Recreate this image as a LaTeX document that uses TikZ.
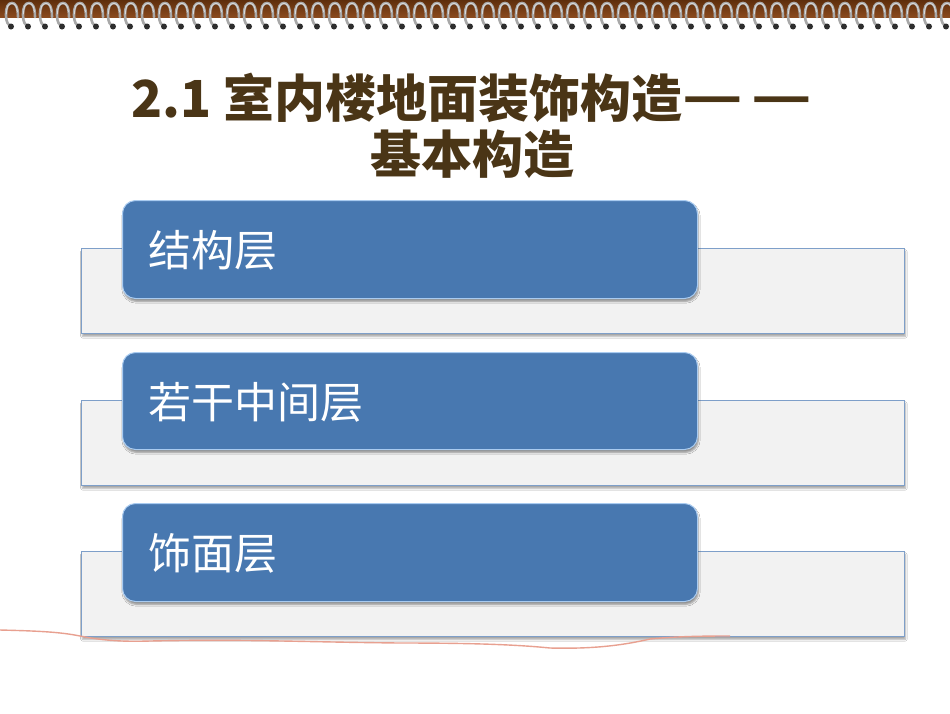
\documentclass[tikz,border=0pt]{standalone}
\usepackage{fontspec}
\usepackage{graphicx}
\newfontfamily\cjk{Noto Sans CJK SC}
\usetikzlibrary{shadows.blur}
\definecolor{band}{HTML}{5E2E0C}
\definecolor{bandlight}{HTML}{8A4A1E}
\definecolor{ring}{HTML}{A8A8A8}
\definecolor{ringhi}{HTML}{D8D8D8}
\definecolor{ringdark}{HTML}{2E2E2E}
\definecolor{titlebrown}{HTML}{4A3516}
\definecolor{layerblue}{HTML}{4878B0}
\definecolor{layeredge}{HTML}{A9CBF0}
\definecolor{panelfill}{HTML}{F2F2F2}
\definecolor{paneledge}{HTML}{7E9FC9}
\definecolor{redline}{HTML}{E8A090}
\newcommand{\widedash}{\scalebox{1.3}[1]{—}}
\tikzset{
  panel/.style={draw=paneledge, line width=0.8pt, fill=panelfill,
    blur shadow={shadow xshift=1pt, shadow yshift=-3pt, shadow blur steps=5, shadow opacity=35}},
  layer/.style={draw=layeredge, line width=1pt, fill=layerblue, rounded corners=13pt,
    blur shadow={shadow xshift=1pt, shadow yshift=-3pt, shadow blur steps=5, shadow opacity=40}},
  layertext/.style={anchor=west, text=white, font=\cjk\fontsize{43}{47}\selectfont, inner sep=0pt},
  titletext/.style={text=titlebrown, align=center, font=\cjk\bfseries\fontsize{51}{56}\selectfont},
}
\begin{document}
\begin{tikzpicture}[x=1pt,y=-1pt]
\useasboundingbox (0,0) rectangle (950,713);
\fill[white] (0,0) rectangle (950,713);
% brown band
\shade[top color=band, bottom color=bandlight] (0,0) rectangle (950,17);
% spiral rings
\foreach \i in {0,...,55}{
  \pgfmathsetmacro{\cx}{12+17*\i}
  \draw[ring, line width=2.6pt, line cap=round]
    (\cx+6,17) .. controls (\cx+6,6) and (\cx+3,3) .. (\cx,3)
    .. controls (\cx-4,3) and (\cx-6,7) .. (\cx-6,15)
    .. controls (\cx-6,22) and (\cx-4,25) .. (\cx-1,26);
  \draw[ringhi, line width=0.9pt, line cap=round]
    (\cx+5.5,12) .. controls (\cx+5,6) and (\cx+3,3.5) .. (\cx,3.5)
    .. controls (\cx-4,3.5) and (\cx-5.5,7) .. (\cx-5.5,14);
  \fill[ringdark] (\cx-1,26.5) circle (3pt);
}
% title
\node[titletext] (title) at (472,126) {2.1 室内楼地面装饰构造\raisebox{3pt}{\widedash\hspace{9pt}\widedash}\\基本构造};
% panels
\node[panel, minimum width=823pt, minimum height=85pt, anchor=north west, inner sep=0pt] (p1) at (81,248) {};
\node[panel, minimum width=823pt, minimum height=85pt, anchor=north west, inner sep=0pt] (p2) at (81,400) {};
\node[panel, minimum width=823pt, minimum height=85pt, anchor=north west, inner sep=0pt] (p3) at (81,551) {};
% blue layers
\node[layer, minimum width=575pt, minimum height=98pt, anchor=north west, inner sep=0pt] (b1) at (122,200) {};
\node[layer, minimum width=575pt, minimum height=97pt, anchor=north west, inner sep=0pt] (b2) at (122,352) {};
\node[layer, minimum width=575pt, minimum height=98pt, anchor=north west, inner sep=0pt] (b3) at (122,503) {};
\node[layertext] (t1) at (148,250) {结构层};
\node[layertext] (t2) at (148,402) {若干中间层};
\node[layertext] (t3) at (148,553) {饰面层};
% red line
\draw[redline, line width=1.4pt] (0,630) .. controls (40,631) and (60,632) .. (80,636)
  .. controls (100,640) and (120,642) .. (150,641)
  .. controls (250,639) and (300,642) .. (400,643)
  .. controls (480,643) and (520,645) .. (550,648)
  .. controls (590,649) and (620,646) .. (650,639)
  .. controls (680,636) and (710,636) .. (730,636);
\end{tikzpicture}
\end{document}
